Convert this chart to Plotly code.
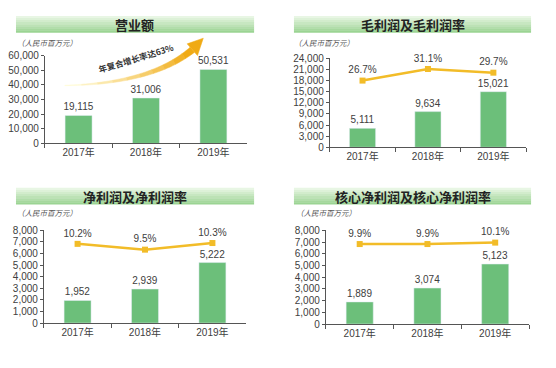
import numpy as np
import plotly.graph_objects as go

# page body has an 8px margin: draw a 540x352 figure that lands on the 556x368 window
W0, H0 = 556, 368
OFF = 8
W, H = W0 - 2 * OFF, H0 - 2 * OFF

years = ["2017年", "2018年", "2019年"]

revenue = [19115, 31006, 50531]
gross_profit = [5111, 9634, 15021]
gross_margin = [26.7, 31.1, 29.7]
net_profit = [1952, 2939, 5222]
net_margin = [10.2, 9.5, 10.3]
core_profit = [1889, 3074, 5123]
core_margin = [9.9, 9.9, 10.1]

titles = ["营业额", "毛利润及毛利润率", "净利润及净利润率", "核心净利润及核心净利润率"]
unit_label = "（人民币百万元）"
cagr_label = "年复合增长率达63%"

BAR = "#6cbf7a"
LINE = "#f2bc28"
TXT = "#404040"
FONT = "Liberation Sans, Arial, Noto Sans CJK SC"

def px(x):
    return (x - OFF) / W

def py(y):
    return 1 - (y - OFF) / H

fig = go.Figure()

panels = [
    dict(x=(43, 246), y=(51, 142), ymax=60000, dtick=10000, bars=revenue, rate=None, r2=None),
    dict(x=(329, 526), y=(54, 146), ymax=24000, dtick=3000, bars=gross_profit, rate=gross_margin, r2=[1.4, 35.1]),
    dict(x=(42, 245), y=(232, 328), ymax=8000, dtick=1000, bars=net_profit, rate=net_margin, r2=[0.63, 11.83]),
    dict(x=(325, 529), y=(232, 329), ymax=8000, dtick=1000, bars=core_profit, rate=core_margin, r2=[-1.2, 11.8]),
]

layout = {}
for i, p in enumerate(panels):
    n = i + 1
    xa = "x" if n == 1 else f"x{n}"
    ya = "y" if n == 1 else f"y{n}"
    fig.add_trace(go.Bar(
        x=years, y=p["bars"], xaxis=xa, yaxis=ya, marker_color=BAR, width=0.4,
        text=[f"{v:,}" for v in p["bars"]], textposition="outside", constraintext="none",
        textfont=dict(size=10, color=TXT, family=FONT), cliponaxis=False, showlegend=False,
    ))
    layout[f"xaxis{'' if n == 1 else n}"] = dict(
        domain=[px(p["x"][0]), px(p["x"][1])], anchor=ya, type="category",
        range=[-0.5, 2.5], showline=True, linecolor="#555555", linewidth=1,
        ticks="outside", tickson="boundaries", ticklen=4, tickcolor="#555555",
        tickfont=dict(size=10, color=TXT, family=FONT), showgrid=False, fixedrange=True,
    )
    layout[f"yaxis{'' if n == 1 else n}"] = dict(
        domain=[py(p["y"][1]), py(p["y"][0])], anchor=xa, range=[0, p["ymax"]],
        dtick=p["dtick"], tickformat=",d", showline=True, linecolor="#555555", linewidth=1,
        ticks="outside", ticklen=3, tickcolor="#555555", showgrid=False, zeroline=False,
        tickfont=dict(size=10, color=TXT, family=FONT), fixedrange=True,
    )
    if p["rate"] is not None:
        m = n + 4
        fig.add_trace(go.Scatter(
            x=years, y=p["rate"], xaxis=xa, yaxis=f"y{m}", mode="lines+markers+text",
            line=dict(color=LINE, width=2.5), marker=dict(symbol="square", size=6, color=LINE),
            text=[f"{v:.1f}%" for v in p["rate"]], textposition="top center",
            textfont=dict(size=10, color=TXT, family=FONT), cliponaxis=False, showlegend=False,
        ))
        layout[f"yaxis{m}"] = dict(
            domain=[py(p["y"][1]), py(p["y"][0])], anchor=xa, overlaying=ya, side="right",
            range=p["r2"], visible=False, fixedrange=True,
        )

banners = [(14, 253, 10, 27), (293, 531, 10, 27), (14, 253, 188, 205), (293, 531, 188, 205)]
title_centers = [(133, 19), (412, 19), (133, 197), (412, 197)]
unit_pos = [(13, 37), (291, 38), (13, 214), (293, 214)]
shapes = []
annotations = []
top_c = np.array([232, 246, 228])
bot_c = np.array([155, 212, 147])
nstr = 8
for (x0, x1, y0, y1) in banners:
    h = (y1 - y0) / nstr
    for k in range(nstr):
        c = top_c + (bot_c - top_c) * k / (nstr - 1)
        shapes.append(dict(type="rect", xref="paper", yref="paper",
                           x0=px(x0), x1=px(x1), y0=py(y0 + k * h), y1=py(y0 + (k + 1) * h + 0.3),
                           fillcolor=f"rgb({int(c[0])},{int(c[1])},{int(c[2])})", line_width=0, layer="below"))
for t, (cx, cy) in zip(titles, title_centers):
    annotations.append(dict(text=f"<b>{t}</b>", x=px(cx), y=py(cy), xref="paper", yref="paper",
                            showarrow=False, font=dict(size=13, color="#222222", family="Noto Sans CJK SC"),
                            xanchor="center", yanchor="middle"))
for (ux, uy) in unit_pos:
    annotations.append(dict(text=f"<i>{unit_label}</i>", x=px(ux), y=py(uy), xref="paper", yref="paper",
                            showarrow=False, font=dict(size=7.5, color="#555555", family="Noto Sans CJK SC"),
                            xanchor="left", yanchor="middle"))

# curved growth arrow (decoration)
P0 = np.array([63.0, 82.0]); C = np.array([150.0, 80.0]); P2 = np.array([191.0, 45.0])
tip = np.array([202.0, 33.0])
ts = np.linspace(0, 1, 41)
pts = np.array([(1 - t) ** 2 * P0 + 2 * (1 - t) * t * C + t ** 2 * P2 for t in ts])
der = np.array([2 * (1 - t) * (C - P0) + 2 * t * (P2 - C) for t in ts])
nrm = np.stack([-der[:, 1], der[:, 0]], axis=1)
nrm /= np.linalg.norm(nrm, axis=1, keepdims=True)
wid = 0.2 + 3.2 * ts
left = pts + nrm * wid[:, None]
right = pts - nrm * wid[:, None]
c0 = np.array([255, 250, 215]); c1 = np.array([240, 170, 20])
nseg = 10
for s in range(nseg):
    a, b = s * 4, (s + 1) * 4
    poly = list(left[a:b + 1]) + list(right[a:b + 1][::-1])
    path = "M " + " L ".join(f"{px(q[0])},{py(q[1])}" for q in poly) + " Z"
    c = c0 + (c1 - c0) * (s / (nseg - 1))
    col = f"rgb({int(c[0])},{int(c[1])},{int(c[2])})"
    shapes.append(dict(type="path", path=path, xref="paper", yref="paper", fillcolor=col, line=dict(color=col, width=0.5)))
n_end = nrm[-1]
hl = P2 + n_end * 8.0; hr = P2 - n_end * 8.0
head = [hl, tip, hr]
path = "M " + " L ".join(f"{px(q[0])},{py(q[1])}" for q in head) + " Z"
shapes.append(dict(type="path", path=path, xref="paper", yref="paper", fillcolor="rgb(240,170,20)", line=dict(color="rgb(240,170,20)", width=0.5)))
annotations.append(dict(text=f"<b>{cagr_label}</b>", x=px(134), y=py(54), xref="paper", yref="paper",
                        showarrow=False, textangle=-17, font=dict(size=8.5, color="#333333", family="Noto Sans CJK SC"),
                        xanchor="center", yanchor="middle"))

fig.update_layout(
    width=W, height=H, margin=dict(l=0, r=0, t=0, b=0), autosize=False,
    paper_bgcolor="white", plot_bgcolor="white", shapes=shapes, annotations=annotations,
    bargap=0.6, **layout,
)
fig.write_html("out.html")
